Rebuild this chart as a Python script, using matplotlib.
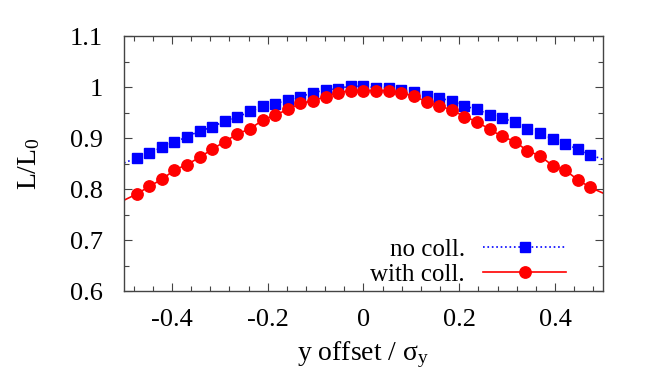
import numpy as np
import matplotlib
matplotlib.use('Agg')
import matplotlib.pyplot as plt
from matplotlib.ticker import MultipleLocator

plt.rcParams['font.family'] = ['Liberation Serif', 'DejaVu Serif']
plt.rcParams['mathtext.fontset'] = 'custom'
plt.rcParams['mathtext.rm'] = 'Liberation Serif'
plt.rcParams['mathtext.it'] = 'Liberation Serif'

# y offset / sigma_y, -0.5 .. 0.5 in 38 steps
offset = np.linspace(-0.5, 0.5, 39)

no_coll = [0.851, 0.861, 0.870, 0.882, 0.892, 0.902, 0.914, 0.921, 0.934, 0.941,
           0.952, 0.963, 0.967, 0.975, 0.981, 0.989, 0.994, 0.997, 1.002, 1.001,
           0.999, 0.999, 0.995, 0.991, 0.983, 0.978, 0.973, 0.963, 0.956, 0.946,
           0.939, 0.931, 0.918, 0.909, 0.899, 0.889, 0.878, 0.867, 0.858]

with_coll = [0.778, 0.790, 0.805, 0.819, 0.837, 0.848, 0.862, 0.878, 0.893, 0.908,
             0.918, 0.935, 0.945, 0.956, 0.968, 0.973, 0.981, 0.989, 0.993, 0.993,
             0.993, 0.993, 0.989, 0.982, 0.971, 0.963, 0.955, 0.942, 0.932, 0.917,
             0.903, 0.893, 0.875, 0.865, 0.846, 0.837, 0.818, 0.803, 0.792]

fig = plt.figure(figsize=(6.54, 3.82), dpi=100)
ax = fig.add_axes([124 / 654, 1 - 291 / 382, 479 / 654, 255 / 382])

inner = slice(1, -1)
ax.plot(offset, no_coll, color='#0000ff', ls=':', lw=1.2, marker='s', ms=7.8,
        markevery=inner, label='no coll.')
ax.plot(offset, with_coll, color='#ff0000', ls='-', lw=1.2, marker='o', ms=8.2,
        markevery=inner, label='with coll.')

ax.set_xlim(-0.5, 0.5)
ax.set_ylim(0.6, 1.1)
ax.xaxis.set_minor_locator(MultipleLocator(0.04))
ax.yaxis.set_minor_locator(MultipleLocator(0.05))
ax.set_yticks([0.6, 0.7, 0.8, 0.9, 1.0, 1.1], ['0.6', '0.7', '0.8', '0.9', '1', '1.1'])
ax.set_xticks([-0.4, -0.2, 0, 0.2, 0.4], ['-0.4', '-0.2', '0', '0.2', '0.4'])

ax.tick_params(which='both', direction='in', top=True, right=True, labelsize=19,
               colors='#444444', labelcolor='black')
ax.tick_params(which='major', length=6, width=0.8)
ax.tick_params(which='minor', length=3.5, width=0.8)
ax.tick_params(axis='y', pad=15)
ax.tick_params(axis='x', pad=13)
for s in ax.spines.values():
    s.set_color('#444444')
    s.set_linewidth(1.0)

ax.set_xlabel(r'y offset / $\mathrm{\sigma_y}$', fontsize=20, labelpad=6)
ax.set_ylabel(r'L/L$\mathrm{_0}$', fontsize=20, labelpad=20)

leg = ax.legend(loc='lower right', frameon=False, fontsize=18, markerfirst=False,
                handlelength=3.3, handletextpad=0.75, borderaxespad=0, borderpad=0,
                labelspacing=0.1, bbox_to_anchor=((566 - 124) / 479, 0.02))
for t in leg.get_texts():
    t.set_ha('right')

fig.savefig('out.png', dpi=100)
